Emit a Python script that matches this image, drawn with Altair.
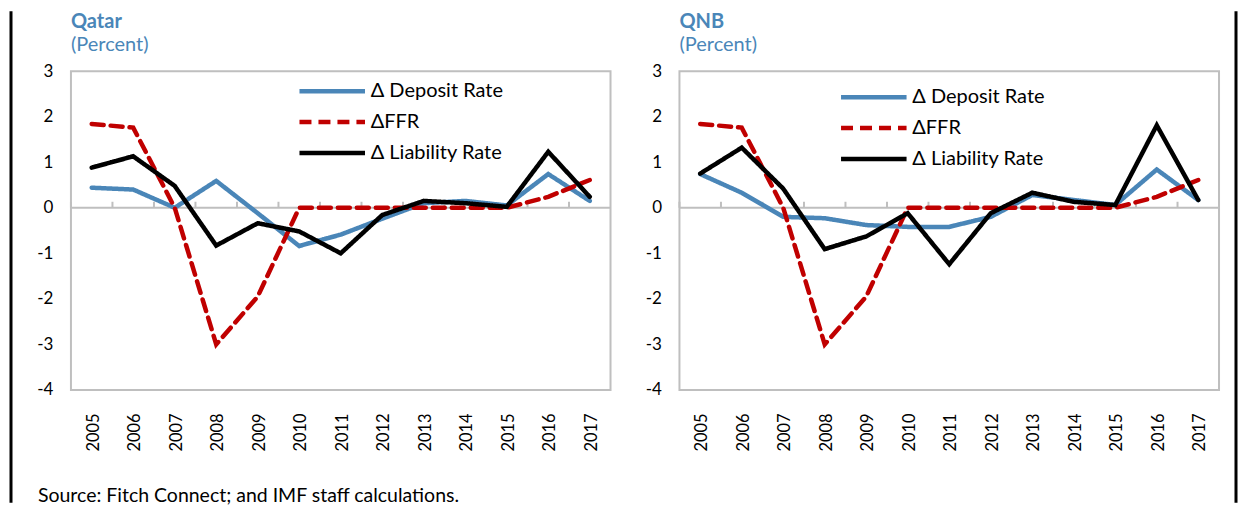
import altair as alt
import pandas as pd

years = [str(y) for y in range(2005, 2018)]
series_names = ["Δ Deposit Rate", "ΔFFR", "Δ Liability Rate"]
series_colors = ["#4a86b8", "#c00000", "#000000"]
series_dashes = [[1, 0], [12, 7], [1, 0]]

ffr = [1.84, 1.76, 0.0, -3.0, -1.95, 0.0, 0.0, 0.0, 0.0, 0.0, 0.0, 0.24, 0.61]
qatar_deposit = [0.44, 0.40, 0.0, 0.59, -0.12, -0.84, -0.59, -0.24, 0.10, 0.15, 0.05, 0.74, 0.15]
qatar_liability = [0.88, 1.13, 0.48, -0.83, -0.34, -0.52, -1.00, -0.16, 0.15, 0.10, 0.02, 1.23, 0.24]
qnb_deposit = [0.74, 0.33, -0.20, -0.23, -0.38, -0.42, -0.42, -0.20, 0.28, 0.17, 0.06, 0.84, 0.17]
qnb_liability = [0.75, 1.32, 0.42, -0.91, -0.63, -0.12, -1.24, -0.12, 0.33, 0.13, 0.06, 1.81, 0.17]

y_ticks = [-4, -3, -2, -1, 0, 1, 2, 3]
unit_label = "(Percent)"
source_note = "Source: Fitch Connect; and IMF staff calculations."

BLUE = "#4a86b8"
GRAY = "#bfbfbf"
FONT = "Lato"
W, H = 540, 319
Y0 = H * 3 / 7  # pixel row of the zero line inside the plot


def panel(name, deposit, liability, leg_x, leg_y, border_x, with_source):
    df = pd.DataFrame({
        "year": years * 3,
        "series": [series_names[0]] * 13 + [series_names[1]] * 13 + [series_names[2]] * 13,
        "value": deposit + ffr + liability,
    })
    legend = alt.Legend(
        orient="none", legendX=leg_x, legendY=leg_y, title=None,
        symbolType="stroke", symbolSize=4300, symbolStrokeWidth=4.5,
        labelFont=FONT, labelFontSize=20, labelColor="black",
        clipHeight=20, rowPadding=11, labelOffset=3,
    )
    color = alt.Color("series:N", sort=series_names,
                      scale=alt.Scale(domain=series_names, range=series_colors),
                      legend=legend)
    dash = alt.StrokeDash("series:N", sort=series_names,
                          scale=alt.Scale(domain=series_names, range=series_dashes),
                          legend=legend)
    xscale = alt.Scale(type="band", paddingInner=0, paddingOuter=0)
    yscale = alt.Scale(domain=[-4, 3], nice=False, zero=False)
    xaxis = alt.Axis(
        title=None, orient="bottom", labelAngle=270, labelFont=FONT, labelFontSize=16.5,
        labelColor="black", labelPadding=23, ticks=False, domain=False, grid=False,
        labelOffset=2)
    yaxis = alt.Axis(
        title=None, values=y_ticks, labelExpr="'' + datum.value",
        labelFont=FONT, labelFontSize=17, labelColor="black",
        labelPadding=18, ticks=False, domain=False, grid=False)

    zero_line = alt.Chart(pd.DataFrame({"v": [0]})).mark_rule(
        color=GRAY, strokeWidth=2).encode(y=alt.Y("v:Q", scale=yscale, axis=yaxis))
    ticks = alt.Chart(pd.DataFrame({"year": years})).mark_rule(
        color=GRAY, strokeWidth=2).encode(
        x=alt.X("year:O", scale=xscale, axis=xaxis, bandPosition=0),
        y=alt.value(Y0 - 6), y2=alt.value(Y0))
    lines = alt.Chart(df).mark_line(strokeWidth=4.5, strokeCap="round").encode(
        x=alt.X("year:O", scale=xscale, axis=xaxis),
        y=alt.Y("value:Q", scale=yscale, axis=yaxis),
        color=color, strokeDash=dash,
    )
    one = pd.DataFrame({"k": [0]})
    border = alt.Chart(one).mark_rule(color="black", strokeWidth=3).encode(
        x=alt.value(border_x), y=alt.value(-60), y2=alt.value(432))
    title_txt = alt.Chart(one).mark_text(
        align="left", baseline="alphabetic", font=FONT, fontSize=20,
        fontWeight="bold", color=BLUE
    ).encode(x=alt.value(0), y=alt.value(-43), text=alt.value(name))
    sub_txt = alt.Chart(one).mark_text(
        align="left", baseline="alphabetic", font=FONT, fontSize=20, color=BLUE
    ).encode(x=alt.value(0), y=alt.value(-20), text=alt.value(unit_label))
    layers = [zero_line, ticks, lines, border, title_txt, sub_txt]
    if with_source:
        src = alt.Chart(one).mark_text(
            align="left", baseline="alphabetic", font=FONT, fontSize=19.5, color="black"
        ).encode(x=alt.value(-33), y=alt.value(431), text=alt.value(source_note))
        layers.append(src)
    return alt.layer(*layers).properties(width=W, height=H)


left = panel("Qatar", qatar_deposit, qatar_liability, 226, 10, -60, True)
right = panel("QNB", qnb_deposit, qnb_liability, 159, 16, 557, False)

chart = alt.hconcat(left, right, spacing=69, bounds="flush").resolve_scale(
    color="independent", strokeDash="independent"
).resolve_legend(color="independent", strokeDash="independent").properties(
    padding={"left": 0, "top": 0, "right": 0, "bottom": 0}
).configure_view(stroke=GRAY, strokeWidth=2)

chart.save("out.html", embed_options={"renderer": "svg", "actions": False})
